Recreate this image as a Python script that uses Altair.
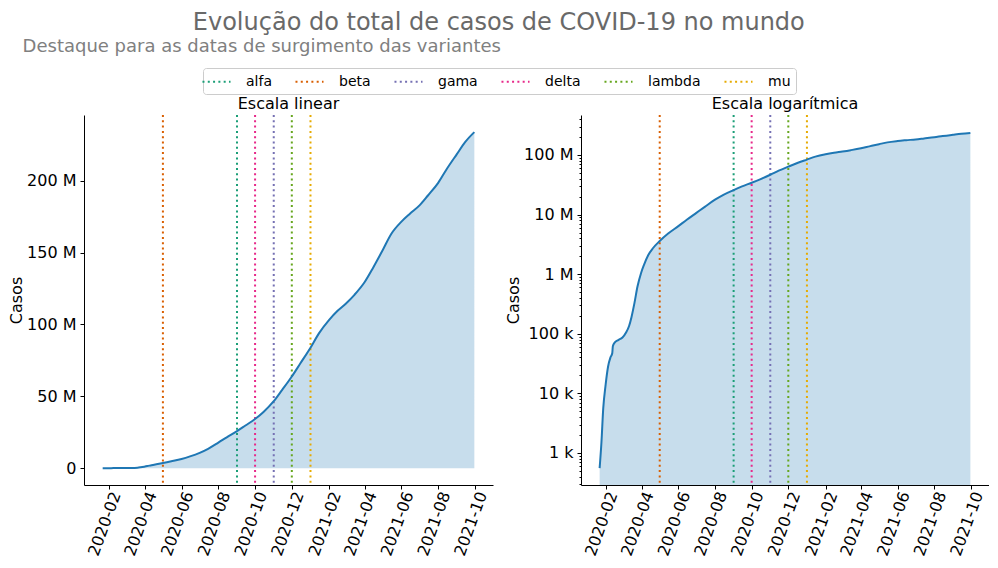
import altair as alt
import pandas as pd

# ---- data ----
dates = [
    "2020-01-22", "2020-01-25", "2020-01-28", "2020-02-01", "2020-02-05", "2020-02-09",
    "2020-02-12", "2020-02-13", "2020-02-16", "2020-02-22", "2020-02-29", "2020-03-06",
    "2020-03-11", "2020-03-15", "2020-03-20", "2020-03-25", "2020-03-31", "2020-04-05",
    "2020-04-12", "2020-04-20", "2020-05-01", "2020-05-15", "2020-06-01", "2020-06-15",
    "2020-07-01", "2020-07-15", "2020-08-01", "2020-08-15", "2020-09-01", "2020-09-15",
    "2020-10-01", "2020-10-15", "2020-11-01", "2020-11-15", "2020-12-01", "2020-12-15",
    "2021-01-01", "2021-01-15", "2021-02-01", "2021-02-15", "2021-03-01", "2021-03-15",
    "2021-04-01", "2021-04-15", "2021-05-01", "2021-05-15", "2021-06-01", "2021-06-15",
    "2021-07-01", "2021-07-15", "2021-08-01", "2021-08-15", "2021-09-01", "2021-09-15",
    "2021-09-30",
]
cases = [
    557, 1500, 5600, 14000, 28000, 40000,
    47000, 62000, 71000, 78500, 86500, 105000,
    135000, 190000, 330000, 620000, 1050000, 1450000,
    2100000, 2750000, 3600000, 4800000, 6400000, 8200000,
    10700000, 13500000, 17800000, 21500000, 25800000, 29700000,
    34200000, 39100000, 46600000, 54500000, 63800000, 72800000,
    83800000, 93800000, 103200000, 109500000, 114600000, 120600000,
    129500000, 139500000, 151800000, 162900000, 171500000, 177000000,
    182800000, 189700000, 198500000, 208000000, 218500000, 227000000,
    233800000,
]

variants = ["alfa", "beta", "gama", "delta", "lambda", "mu"]
variant_dates = ["2020-09-01", "2020-05-01", "2020-11-01", "2020-10-01", "2020-12-01", "2021-01-01"]
variant_colors = ["#1b9e77", "#d95f02", "#7570b3", "#e7298a", "#66a61e", "#e6ab02"]

lin_ticks = [0, 50e6, 100e6, 150e6, 200e6]
log_ticks = [1e3, 1e4, 1e5, 1e6, 1e7, 1e8]
log_minor = [m * 10 ** k for k in range(2, 9) for m in range(2, 10) if 290 <= m * 10 ** k <= 4.69e8]
x_tick_months = [(2020, m) for m in (2, 4, 6, 8, 10, 12)] + [(2021, m) for m in (2, 4, 6, 8, 10)]

title_main = "Evolução do total de casos de COVID-19 no mundo"
title_sub = "Destaque para as datas de surgimento das variantes"

FONT = "DejaVu Sans"
LINE_C = "#1f77b4"

df = pd.DataFrame({"date": dates, "cases": cases})
vdf = pd.DataFrame({"variante": variants, "date": variant_dates})

x_domain = [alt.DateTime(year=2019, month=12, date=22, utc=True),
            alt.DateTime(year=2021, month=10, date=31, utc=True)]
x_values = [alt.DateTime(year=y, month=m, date=1, utc=True) for y, m in x_tick_months]


def xenc():
    return alt.X(
        "date:T", title=None,
        scale=alt.Scale(type="utc", domain=x_domain),
        axis=alt.Axis(values=x_values, format="%Y-%m", labelAngle=-70, labelAlign="right",
                      labelBaseline="middle", labelOffset=7, labelPadding=3, tickSize=4,
                      labelOverlap=False, grid=False),
    )


dash = [2, 3.3]

legend_def = alt.Legend(
    title=None, orient="none", legendX=119, legendY=-47, direction="horizontal",
    columns=6, symbolType="M-1.87,0H1.87", symbolSize=225, symbolStrokeWidth=2,
    symbolDash=dash, symbolOffset=0, labelOffset=21, columnPadding=19, padding=5,
    strokeColor="#cccccc", cornerRadius=3, fillColor="white", labelFontSize=14,
    labelFont=FONT, labelColor="black",
)
color_enc = alt.Color("variante:N", scale=alt.Scale(domain=variants, range=variant_colors),
                      legend=legend_def)

# ---------- left panel (linear) ----------
lin_scale = alt.Scale(domain=[-11.7e6, 245.7e6], nice=False, zero=False)
lin_axis = alt.Axis(values=lin_ticks, title="Casos", tickSize=4, grid=False, titlePadding=2,
                    labelPadding=4,
                    labelExpr="datum.value == 0 ? '0' : format(datum.value / 1e6, 'd') + ' M'")

area_l = alt.Chart(df).mark_area(color=LINE_C, opacity=0.25, interpolate="monotone").encode(
    x=xenc(), y=alt.Y("cases:Q", scale=lin_scale, axis=lin_axis), y2=alt.datum(0)
)
rules_l = alt.Chart(vdf).mark_rule(strokeWidth=2, strokeDash=dash, strokeCap="butt").encode(
    x=alt.X("date:T"), color=color_enc
)
line_l = alt.Chart(df).mark_line(color=LINE_C, strokeWidth=2, interpolate="monotone").encode(
    x=xenc(), y=alt.Y("cases:Q", scale=lin_scale, axis=lin_axis)
)
left = alt.layer(area_l, rules_l, line_l).properties(
    width=409, height=370,
    title=alt.TitleParams("Escala linear", fontSize=16, font=FONT, fontWeight="normal",
                          color="black", offset=2),
)

# ---------- right panel (log) ----------
log_scale = alt.Scale(type="log", domain=[290, 4.69e8], nice=False)
log_axis = alt.Axis(values=log_ticks, title="Casos", tickSize=4, grid=False, orient="left",
                    titlePadding=2, labelPadding=4,
                    labelExpr="datum.value >= 1e6 ? format(datum.value / 1e6, 'd') + ' M' : format(datum.value / 1e3, 'd') + ' k'")
minor_axis = alt.Axis(values=log_minor, title=None, tickSize=2, grid=False, orient="left",
                      labels=False, domain=False)

area_r = alt.Chart(df).mark_area(color=LINE_C, opacity=0.25, interpolate="monotone").encode(
    x=xenc(), y=alt.Y("cases:Q", scale=log_scale, axis=minor_axis), y2=alt.datum(290)
)
rules_r = alt.Chart(vdf).mark_rule(strokeWidth=2, strokeDash=dash, strokeCap="butt").encode(
    x=alt.X("date:T"), color=color_enc
)
line_r = alt.Chart(df).mark_line(color=LINE_C, strokeWidth=2, interpolate="monotone").encode(
    x=xenc(), y=alt.Y("cases:Q", scale=log_scale, axis=log_axis)
)
right = alt.layer(area_r, rules_r, line_r).resolve_axis(y="independent").properties(
    width=408, height=370,
    title=alt.TitleParams("Escala logarítmica", fontSize=16, font=FONT, fontWeight="normal",
                          color="black", offset=2),
)

inner = alt.hconcat(left, right, spacing=12).properties(
    title=alt.TitleParams(title_sub, anchor="start", fontSize=18, font=FONT, fontWeight="normal",
                          color="gray", dx=14, offset=40)
)

chart = alt.vconcat(inner).properties(
    title=alt.TitleParams(title_main, anchor="middle", fontSize=24, font=FONT,
                          fontWeight="normal", color="dimgray", offset=3),
    padding={"left": 0, "top": 3, "right": 0, "bottom": 0},
).configure(font=FONT).configure_view(stroke=None).configure_axis(
    domainColor="black", tickColor="black", labelColor="black", titleColor="black",
    labelFont=FONT, titleFont=FONT, labelFontSize=16, titleFontSize=16,
    titleFontWeight="normal", domainWidth=1, tickWidth=1,
)

chart.save("out.html", embed_options={"renderer": "svg", "actions": False})
